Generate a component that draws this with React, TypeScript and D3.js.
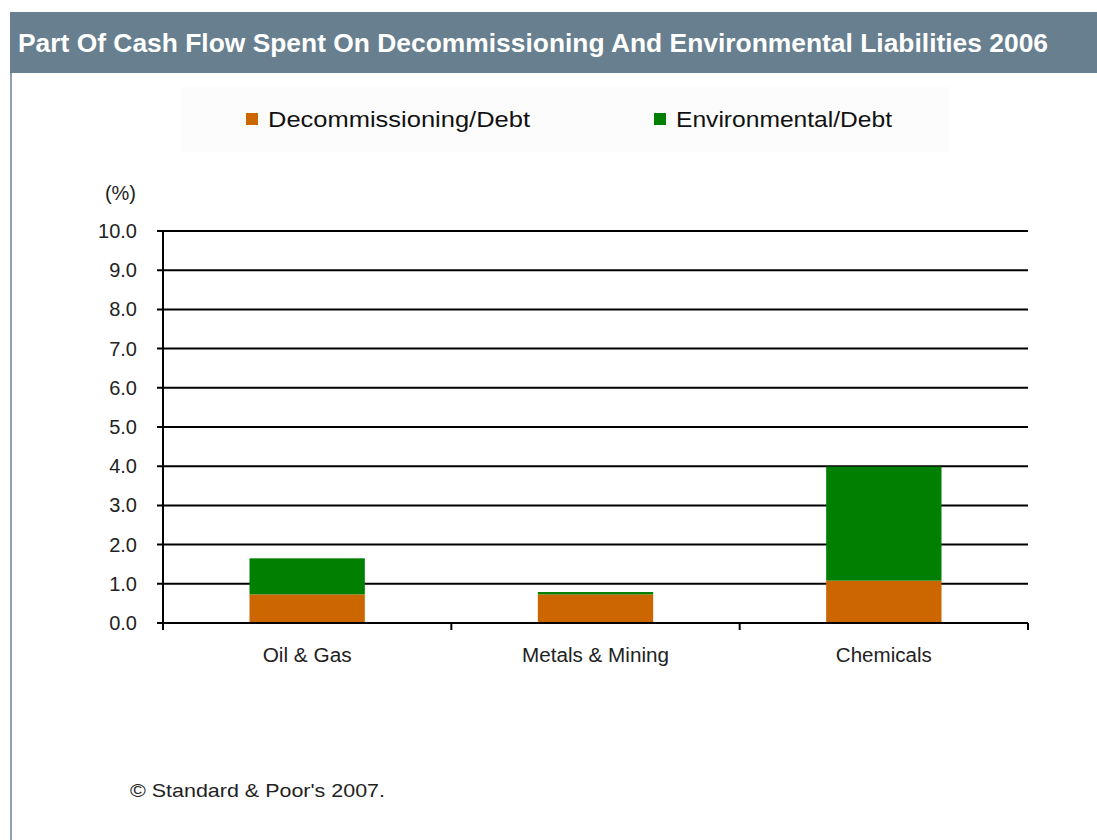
import React from "react";
import * as d3 from "d3";

const categories = ["Oil & Gas", "Metals & Mining", "Chemicals"];
const decommissioning = [0.73, 0.73, 1.08];
const environmental = [0.92, 0.06, 2.91];
const seriesNames = ["Decommissioning/Debt", "Environmental/Debt"];
const yTicks = [0, 1, 2, 3, 4, 5, 6, 7, 8, 9, 10];
const title = "Part Of Cash Flow Spent On Decommissioning And Environmental Liabilities 2006";
const footer = "\u00A9 Standard & Poor's 2007.";

const colors = ["#cc6600", "#007f00"];
const font = "'Liberation Sans', Arial, sans-serif";
const narrow = "'Liberation Sans Narrow', 'Arial Narrow', 'Liberation Sans', sans-serif";

export default function App() {
  const W = 1097, H = 840;
  const left = 163, right = 1028, top = 231, bottom = 623;
  const x = d3.scaleBand<string>().domain(categories).range([left, right]).paddingInner(0.6).paddingOuter(0.3);
  const y = d3.scaleLinear().domain([0, 10]).range([bottom, top]);
  const stack = d3.stack<any>().keys(["d", "e"]);
  const rows = categories.map((c, i) => ({ c, d: decommissioning[i], e: environmental[i] }));
  const stacked = stack(rows);
  const step = x.step();
  const boundaries = categories.map((_, i) => left + step * (i + 1));

  return (
    <svg width={W} height={H} style={{ position: "absolute", left: 0, top: 0, background: "#fff" }}>
      <rect x={0} y={0} width={W} height={H} fill="#fff" />
      {/* container border */}
      <line x1={11} x2={11} y1={12} y2={H} stroke="#8fa1ad" strokeWidth={2} />
      <rect x={10} y={12} width={W - 10} height={61} fill="#677f8e" />
      <text x={18} y={52} fill="#fff" fontFamily={narrow} fontWeight="bold" fontSize={26}
        textLength={1030} lengthAdjust="spacingAndGlyphs">{title}</text>

      {/* legend */}
      <rect x={182} y={87} width={768} height={65} fill="#fcfcfc" />
      {seriesNames.map((s, i) => {
        const lx = [246, 654][i];
        return (
          <g key={s}>
            <rect x={lx} y={113} width={12} height={12} fill={colors[i]} />
            <text x={lx + 22} y={127} fontFamily={font} fontSize={22} fill="#111"
              textLength={[262, 216][i]} lengthAdjust="spacingAndGlyphs">{s}</text>
          </g>
        );
      })}

      {/* y axis label */}
      <text x={136} y={200} textAnchor="end" fontFamily={font} fontSize={20} fill="#222">(%)</text>

      {/* gridlines and ticks */}
      {yTicks.map((t) => (
        <g key={t}>
          <line x1={157} x2={right} y1={y(t)} y2={y(t)} stroke="#000" strokeWidth={2} />
          <text x={137} y={y(t) + 7} textAnchor="end" fontFamily={font} fontSize={20} fill="#222">
            {t.toFixed(1)}
          </text>
        </g>
      ))}

      {/* bars */}
      {stacked.map((layer, si) =>
        layer.map((d, i) => (
          <rect key={si + "-" + i}
            x={x(categories[i])!}
            width={x.bandwidth()}
            y={y(d[1])}
            height={Math.max(0, y(d[0]) - y(d[1]))}
            fill={colors[si]} />
        ))
      )}

      {/* axes */}
      <line x1={left} x2={left} y1={top} y2={bottom + 7} stroke="#000" strokeWidth={2} />
      <line x1={left} x2={right} y1={bottom} y2={bottom} stroke="#000" strokeWidth={2} />
      {boundaries.map((b, i) => (
        <line key={i} x1={b} x2={b} y1={bottom} y2={bottom + 7} stroke="#000" strokeWidth={2} />
      ))}
      {categories.map((c, i) => (
        <text key={c} x={x(c)! + x.bandwidth() / 2} y={662} textAnchor="middle" fontFamily={font} fontSize={20} fill="#222"
          textLength={[89, 147, 96][i]} lengthAdjust="spacingAndGlyphs">
          {c}
        </text>
      ))}

      <text x={130} y={797} fontFamily={font} fontSize={19} fill="#222" textLength={255} lengthAdjust="spacingAndGlyphs">{footer}</text>
    </svg>
  );
}
